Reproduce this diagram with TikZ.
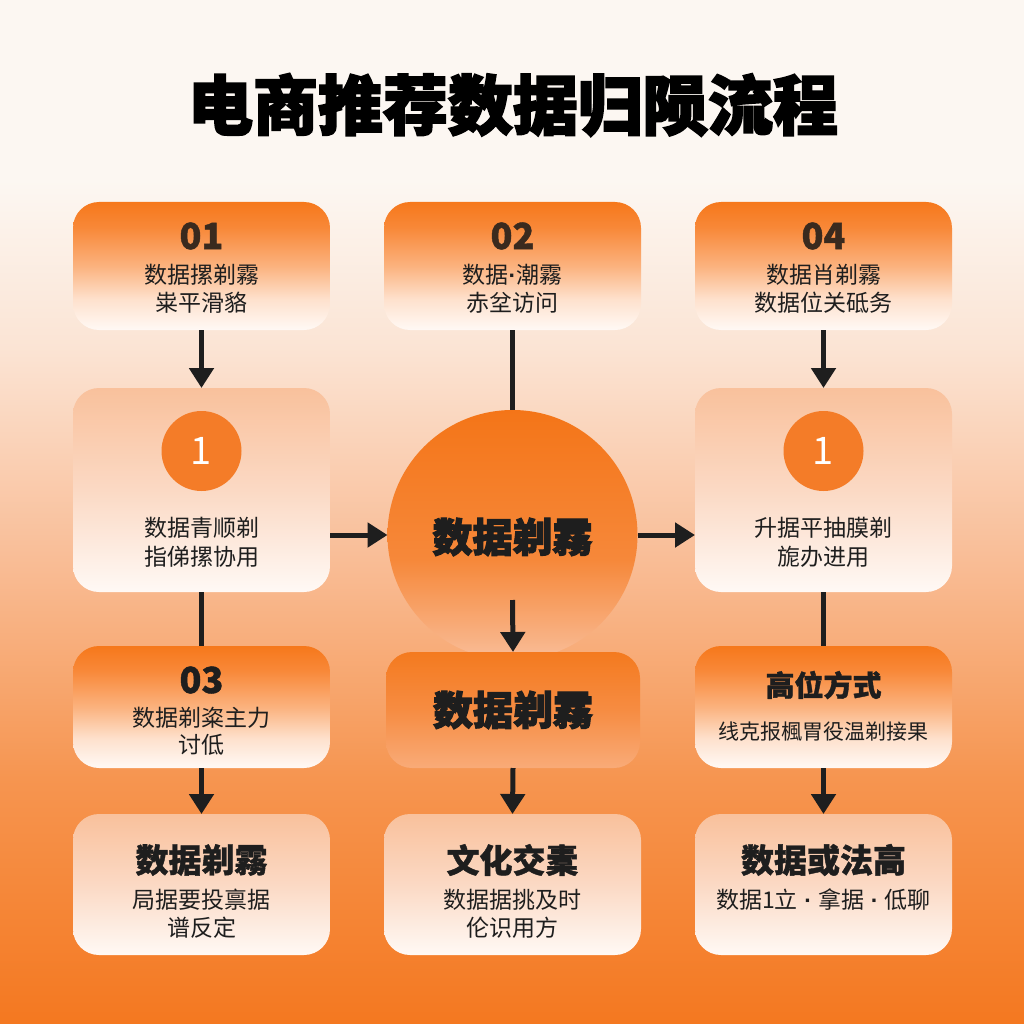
\documentclass[tikz,border=0pt]{standalone}
\usepackage{fontspec}
\setmainfont{Noto Sans CJK SC}
\newfontfamily\cjk{Noto Sans CJK SC}
\newfontfamily\cjkheavy[BoldFeatures={FakeBold=2.8}]{Noto Sans CJK SC}
\newfontfamily\cjkbold[BoldFeatures={FakeBold=1.2}]{Noto Sans CJK SC}
\newfontfamily\latin{Liberation Sans}
\usetikzlibrary{arrows.meta}

\definecolor{ink}{HTML}{1E1E1E}
\definecolor{numbrown}{HTML}{3A2A1E}
\definecolor{bgA}{HTML}{FCF7F2}
\definecolor{bgB}{HTML}{FBE4D4}
\definecolor{bgC}{HTML}{F9BE98}
\definecolor{bgD}{HTML}{F69550}
\definecolor{bgE}{HTML}{F47820}
\definecolor{oA}{HTML}{F6781B}
\definecolor{oB}{HTML}{F88838}
\definecolor{oC}{HTML}{FBB27E}
\definecolor{oD}{HTML}{FEE1CD}
\definecolor{oE}{HTML}{FFF9F5}
\definecolor{lA}{HTML}{F9C19C}
\definecolor{lB}{HTML}{FBD9C4}
\definecolor{lC}{HTML}{FFF9F5}
\definecolor{mA}{HTML}{F47A1F}
\definecolor{mB}{HTML}{F68C42}
\definecolor{mC}{HTML}{F9AB78}
\definecolor{cA}{HTML}{F47518}
\definecolor{cB}{HTML}{F6883A}
\definecolor{cC}{HTML}{F9BD98}
\definecolor{dotc}{HTML}{F47C28}

\pgfdeclareverticalshading{bgshade}{100bp}{color(0bp)=(bgE); color(25bp)=(bgE); color(37bp)=(bgD); color(48bp)=(bgC); color(58bp)=(bgB); color(66.2bp)=(bgA); color(75bp)=(bgA); color(100bp)=(bgA)}
\pgfdeclareverticalshading{orangebox}{100bp}{color(0bp)=(oE); color(25bp)=(oE); color(37bp)=(oD); color(50bp)=(oC); color(65bp)=(oB); color(75bp)=(oA); color(100bp)=(oA)}
\pgfdeclareverticalshading{lightbox}{100bp}{color(0bp)=(lC); color(25bp)=(lC); color(50bp)=(lB); color(75bp)=(lA); color(100bp)=(lA)}
\pgfdeclareverticalshading{midbox}{100bp}{color(0bp)=(mC); color(25bp)=(mC); color(50bp)=(mB); color(75bp)=(mA); color(100bp)=(mA)}
\pgfdeclareverticalshading{circshade}{100bp}{color(0bp)=(cC); color(25bp)=(cC); color(45bp)=(cB); color(75bp)=(cA); color(100bp)=(cA)}

\tikzset{
  arr/.style={draw=ink, line width=5pt, -{Triangle[length=20pt,width=24pt]}},
  link/.style={draw=ink, line width=5pt},
  box/.style={rectangle, rounded corners=26pt, minimum width=257pt, inner sep=0pt, outer sep=0pt},
  obox/.style={box, shading=orangebox},
  lbox/.style={box, shading=lightbox},
  num/.style={font=\cjkbold\bfseries\fontsize{36}{40}\selectfont, text=numbrown, inner sep=0pt},
  numk/.style={font=\cjkbold\bfseries\fontsize{36}{40}\selectfont, text=ink, inner sep=0pt},
  txt/.style={font=\cjk\fontsize{23}{27}\selectfont, text=ink, inner sep=0pt},
  smalltxt/.style={font=\cjk\fontsize{21}{25}\selectfont, text=ink, inner sep=0pt},
  head/.style={font=\cjkbold\bfseries\fontsize{33}{38}\selectfont, text=ink, inner sep=0pt},
  bighead/.style={font=\cjkheavy\bfseries\fontsize{40}{46}\selectfont, text=ink, inner sep=0pt},
  dot/.style={circle, fill=dotc, minimum size=80pt, inner sep=0pt, font=\cjk\fontsize{38}{40}\selectfont, text=white},
}

\begin{document}
\begin{tikzpicture}[x=1pt,y=-1pt]
\useasboundingbox (0,0) rectangle (1024,1024);
\shade[shading=bgshade] (0,0) rectangle (1024,1024);

% title
\node[font=\cjkheavy\bfseries\fontsize{65}{70}\selectfont, text=black, inner sep=0pt] (title) at (513,105) {电商推荐数据归陨流程};

% row 1
\node[obox, minimum height=128pt] (b01) at (201.5,266) {};
\node[obox, minimum height=128pt] (b02) at (512.5,266) {};
\node[obox, minimum height=128pt] (b04) at (823.5,266) {};
\node[num] (n01) at (201.5,236) {01};
\node[txt] (t01a) at (201.5,275) {数据摞剃霧};
\node[txt] (t01b) at (201.5,303) {粜平滑貉};
\node[num] (n02) at (512.5,236) {02};
\node[txt] (t02a) at (512.5,275) {数据{\latin\bfseries ·}潮霧};
\node[txt] (t02b) at (512.5,303) {赤坌访问};
\node[num] (n04) at (823.5,236) {04};
\node[txt] (t04a) at (823.5,275) {数据肖剃霧};
\node[txt] (t04b) at (823.5,303) {数据位关砥务};

% row 2
\node[lbox, minimum height=204pt] (bL) at (201.5,490) {};
\node[lbox, minimum height=204pt] (bR) at (823.5,490) {};
\node[dot] (dL) at (201.5,451) {1};
\node[dot] (dR) at (823.5,451) {1};
\node[txt] (tLa) at (201.5,528) {数据青顺剃};
\node[txt] (tLb) at (201.5,557) {指俤摞协用};
\node[txt] (tRa) at (823.5,528) {升据平抽膜剃};
\node[txt] (tRb) at (823.5,557) {旎办进用};

% centre circle
\node[circle, minimum size=250pt, inner sep=0pt, outer sep=0pt, shading=circshade] (circ) at (512.5,535) {};
\node[bighead] (ctext) at (512.5,537) {数据剃霧};

% row 3
\node[obox, minimum height=122pt] (b03) at (201.5,707) {};
\node[obox, minimum height=122pt] (b3R) at (823.5,707) {};
\node[box, minimum width=254pt, minimum height=116pt, shading=midbox] (bM) at (513,710) {};
\node[numk] (n03) at (201.5,680) {03};
\node[txt] (t03a) at (201.5,718) {数据剃粢主力};
\node[txt] (t03b) at (201.5,745) {讨低};
\node[bighead] (tM) at (513,710) {数据剃霧};
\node[font=\cjkbold\bfseries\fontsize{29}{33}\selectfont, text=ink, inner sep=0pt] (t3Ra) at (823.5,685) {高位方式};
\node[smalltxt] (t3Rb) at (823.5,732) {线克报楓胃役温剃接果};

% row 4
\node[lbox, minimum height=141pt] (b4L) at (201.5,884.5) {};
\node[lbox, minimum height=141pt] (b4M) at (512.5,884.5) {};
\node[lbox, minimum height=141pt] (b4R) at (823.5,884.5) {};
\node[head] (h4L) at (201.5,860) {数据剃霧};
\node[txt] (t4La) at (201.5,900) {局据要投禀据};
\node[txt] (t4Lb) at (201.5,928) {谱反定};
\node[head] (h4M) at (512.5,860) {文化交橐};
\node[txt] (t4Ma) at (512.5,900) {数据据挑及时};
\node[txt] (t4Mb) at (512.5,928) {伦识用方};
\node[head] (h4R) at (823.5,860) {数据或法高};
\node[txt] (t4Ra) at (823.5,900) {数据1立{\latin\bfseries\ ·\ }拿据{\latin\bfseries\ ·\ }低聊};

% connectors
\coordinate (cin) at (512.5,600);
\draw[arr] (b01.south) -- (bL.north);
\draw[link] (b02.south) -- (circ.north);
\draw[arr] (b04.south) -- (bR.north);
\draw[arr] (bL.east |- circ.center) -- (circ.west);
\draw[arr] (circ.east) -- (bR.west |- circ.center);
\draw[arr] (cin) -- (bM.north);
\draw[link] (bL.south) -- (b03.north);
\draw[link] (bR.south) -- (b3R.north);
\draw[arr] (b03.south) -- (b4L.north);
\draw[arr] (bM.south) -- (b4M.north);
\draw[arr] (b3R.south) -- (b4R.north);
\end{tikzpicture}
\end{document}
